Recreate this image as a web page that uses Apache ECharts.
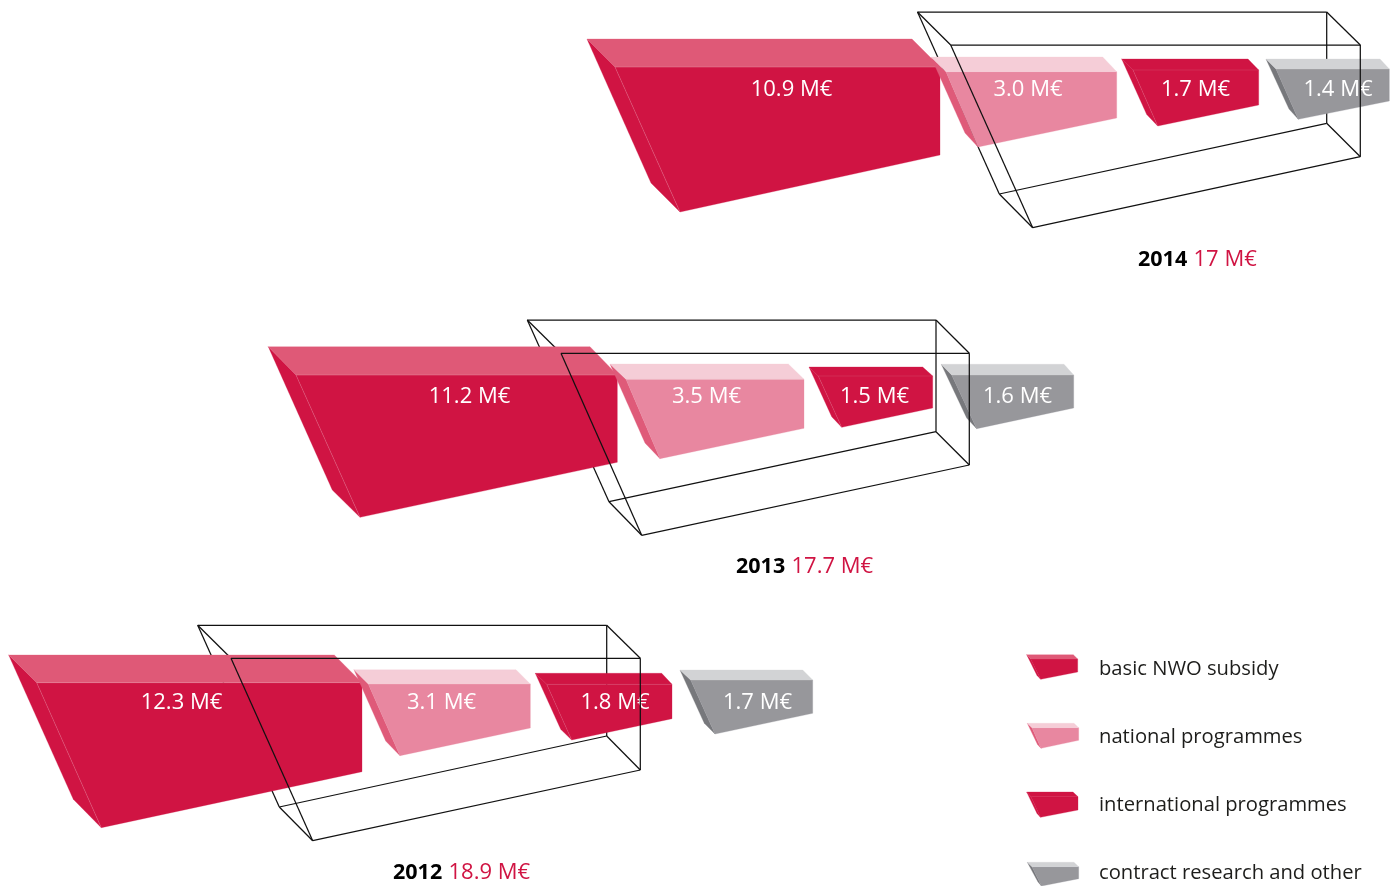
<!DOCTYPE html>
<html>
<head>
<meta charset="utf-8">
<style>html,body{margin:0;padding:0;background:#fff}#c{width:1395px;height:886px}</style>
<script src="https://cdn.jsdelivr.net/npm/echarts@6/dist/echarts.min.js"></script>
</head>
<body>
<div id="c"></div>
<script>
// ---- data ----
var years = ['2014', '2013', '2012'];
var categories = ['basic NWO subsidy', 'national programmes', 'international programmes', 'contract research and other'];
var basicNwo = [10.9, 11.2, 12.3];
var nationalProg = [3.0, 3.5, 3.1];
var internationalProg = [1.7, 1.5, 1.8];
var contractOther = [1.4, 1.6, 1.7];
var totals = ['17', '17.7', '18.9'];

// ---- layout of the drawing, in the units of the hidden axes ----
// a = back left of top face, c = front right of top face, bx = back right x,
// dx = front left x, f = lowest front point, g = lowest back point, ey = front right bottom y, t = label centre
var blockLayout = [
  [ // basic
    {a:[587,39],bx:912,c:[940,67],dx:615,f:[680,212],g:[651,183],ey:155,t:[791.5,90]},
    {a:[268.3,346.7],bx:590,c:[617.3,375],dx:296,f:[360,517.3],g:[332.3,490],ey:462.3,t:[469.5,397]},
    {a:[8.7,655],bx:334.3,c:[362,682.7],dx:36.7,f:[101.3,827.7],g:[73.3,799.3],ey:771.7,t:[181.5,703]}
  ],
  [ // national
    {a:[931,57],bx:1102.7,c:[1116.7,71.7],dx:946,f:[978,147],g:[965,133],ey:118,t:[1028,90]},
    {a:[610,364],bx:788.3,c:[804,379.3],dx:626,f:[660,458.7],g:[645,443],ey:428.3,t:[706.5,397]},
    {a:[354,669.7],bx:516,c:[530.3,684],dx:368.3,f:[400,755.7],g:[385.7,741],ey:728,t:[441.5,703]}
  ],
  [ // international
    {a:[1121.7,59],bx:1248,c:[1258.7,70],dx:1133,f:[1157.7,126],g:[1146.7,114.5],ey:105,t:[1195.5,90]},
    {a:[809,367],bx:922.7,c:[932.7,376],dx:818.3,f:[841.7,427.3],g:[831.7,416.7],ey:408,t:[874.5,397]},
    {a:[535.3,673.3],bx:661.7,c:[672,684.3],dx:546.7,f:[571.7,740],g:[560.7,729.3],ey:718.7,t:[615,703]}
  ],
  [ // contract
    {a:[1266,59],bx:1380,c:[1389.3,69],dx:1276,f:[1298.3,119.3],g:[1289,109],ey:101,t:[1338,90]},
    {a:[941.3,364.3],bx:1064,c:[1073.7,375],dx:951.7,f:[976.7,428.7],g:[966.7,418],ey:408,t:[1017.5,397]},
    {a:[680,670],bx:802.7,c:[812.7,680],dx:690.7,f:[715,734],g:[704.3,723.3],ey:713.3,t:[757.5,703]}
  ]
];
var legendLayout = [
  {a:[1026.7,654.7],bx:1073.3,c:[1077.7,659],dx:1030.7,f:[1040.7,679.3],g:[1037,675.5],ey:672,t:[1099,669]},
  {a:[1027.3,723.3],bx:1074,c:[1078.7,727.7],dx:1032,f:[1041,748.3],g:[1037.5,744.5],ey:740.3,t:[1099,737]},
  {a:[1026.7,792],bx:1073,c:[1078,796.7],dx:1031,f:[1040.5,817.3],g:[1037,813.5],ey:810,t:[1099,805]},
  {a:[1027.3,862.3],bx:1074,c:[1078.7,866.7],dx:1032,f:[1041.5,886],g:[1038,882],ey:878.7,t:[1099,873]}
];
var wireLayout = [
  {bTL:[917.5,12],bTR:[1326.7,12],bBR:[1326.7,123.3],bBL:[999.3,194],fTL:[950.7,45],fTR:[1360.3,45],fBR:[1360.3,156.7],fBL:[1032.7,227.7]},
  {bTL:[527.3,320],bTR:[936,320],bBR:[936,431.7],bBL:[609,501.7],fTL:[561,353.3],fTR:[969.3,353.3],fBR:[969.3,465],fBL:[641.7,535.3]},
  {bTL:[197.7,625.3],bTR:[606.7,625.3],bBR:[606.7,736],bBL:[279.3,807],fTL:[231,658.3],fTR:[640.3,658.3],fBR:[640.3,770],fBL:[312.7,840.7]}
];
var totalLayout = [[1138,260],[736,567],[393,873]];

var palette = [
  {front:'#D01443', top:'#DF5977', left:'#D01443', seam:'rgba(255,255,255,0.22)'},
  {front:'#E887A0', top:'#F5CDD7', left:'#DF5A79', seam:'rgba(255,255,255,0)'},
  {front:'#D01443', top:'#D01443', left:'#D01443', seam:'rgba(255,255,255,0.14)'},
  {front:'#97979B', top:'#D2D3D5', left:'#77787C', seam:'rgba(255,255,255,0)'}
];
var FONT = '"Open Sans","Noto Sans",sans-serif';

function poly(api, pts, fill) {
  return {type:'polygon', shape:{points:pts.map(function(p){return api.coord(p);})},
          style:{fill:fill, stroke:fill, lineWidth:0.3}};
}
function seam(api, p, q, color) {
  var a = api.coord(p), b = api.coord(q);
  return {type:'line', shape:{x1:a[0],y1:a[1],x2:b[0],y2:b[1]}, style:{stroke:color, lineWidth:0.7, fill:null}};
}
function blockShapes(api, L, col, withSeams) {
  var A=L.a, B=[L.bx,L.a[1]], C=L.c, D=[L.dx,L.c[1]], E=[L.c[0],L.ey], F=L.f, G=L.g;
  var shapes = [
    poly(api,[A,D,F,G],col.left),
    poly(api,[D,C,E,F],col.front),
    poly(api,[A,B,C,D],col.top)
  ];
  if (withSeams) { shapes.push(seam(api,D,F,col.seam), seam(api,D,C,col.seam)); }
  return shapes;
}
function makeBlockSeries(catIndex, values) {
  return {
    type:'custom', name:categories[catIndex], coordinateSystem:'cartesian2d', z:2+catIndex/10, silent:true, clip:false,
    data:values.map(function(v,i){return [i,v];}),
    encode:{x:-1,y:-1},
    renderItem:function(params,api){
      var L = blockLayout[catIndex][api.value(0)];
      var children = blockShapes(api,L,palette[catIndex],true);
      var t = api.coord(L.t);
      children.push({type:'text', z2:10, x:t[0], y:t[1], style:{
        text:api.value(1).toFixed(1)+' M€', fill:'#fff', font:'22px '+FONT, align:'center', verticalAlign:'middle'}});
      return {type:'group',children:children};
    }
  };
}
function wireEdges(W, part) {
  return part==='back'
    ? [[W.bTL,W.bTR],[W.bTR,W.bBR],[W.bBR,W.bBL],[W.bBL,W.bTL],[W.bTL,W.fTL],[W.bBL,W.fBL],[W.bBR,W.fBR]]
    : [[W.fTL,W.fTR],[W.fTR,W.fBR],[W.fBR,W.fBL],[W.fBL,W.fTL],[W.bTR,W.fTR]];
}
function makeWireSeries(part,z){
  return {
    type:'custom', name:'frame '+part, coordinateSystem:'cartesian2d', z:z, silent:true, clip:false,
    data:years.map(function(y,i){return [i];}), encode:{x:-1,y:-1},
    renderItem:function(params,api){
      var W = wireLayout[api.value(0)];
      return {type:'group',children:wireEdges(W,part).map(function(e){
        var a=api.coord(e[0]), b=api.coord(e[1]);
        return {type:'line',shape:{x1:a[0],y1:a[1],x2:b[0],y2:b[1]},style:{stroke:'#111',lineWidth:1.25,fill:null}};
      })};
    }
  };
}
var series = [makeWireSeries('back',1)];
[basicNwo,nationalProg,internationalProg,contractOther].forEach(function(v,i){series.push(makeBlockSeries(i,v));});
series.push(makeWireSeries('front',5));
series.push({
  type:'custom', name:'totals', coordinateSystem:'cartesian2d', z:6, silent:true, clip:false,
  data:years.map(function(y,i){return [i];}), encode:{x:-1,y:-1},
  renderItem:function(params,api){
    var i=api.value(0), p=api.coord(totalLayout[i]);
    return {type:'text',x:p[0],y:p[1],style:{
      text:'{y|'+years[i]+'} {v|'+totals[i]+' M€}', align:'left', verticalAlign:'middle',
      rich:{y:{font:'bold 21.5px '+FONT,fill:'#000'},v:{font:'22px '+FONT,fill:'#D01443',padding:[0,0,0,3]}}}};
  }
});
series.push({
  type:'custom', name:'legend', coordinateSystem:'cartesian2d', z:6, silent:true, clip:true,
  data:categories.map(function(c,i){return [i];}), encode:{x:-1,y:-1},
  renderItem:function(params,api){
    var i=api.value(0), L=legendLayout[i], ch=blockShapes(api,L,palette[i],false), t=api.coord(L.t);
    ch.push({type:'text',x:t[0],y:t[1],style:{text:categories[i],fill:'#1d1d1b',font:'20.2px '+FONT,align:'left',verticalAlign:'middle'}});
    return {type:'group',children:ch};
  }
});

var chart = echarts.init(document.getElementById('c'),null,{renderer:'canvas'});
chart.setOption({
  animation:false,
  backgroundColor:'#fff',
  tooltip:{show:false},
  grid:{left:0,right:0,top:0,bottom:0},
  xAxis:{type:'value',min:0,max:1395,show:false},
  yAxis:{type:'value',min:0,max:886,inverse:true,show:false},
  series:series
});
</script>
</body>
</html>
